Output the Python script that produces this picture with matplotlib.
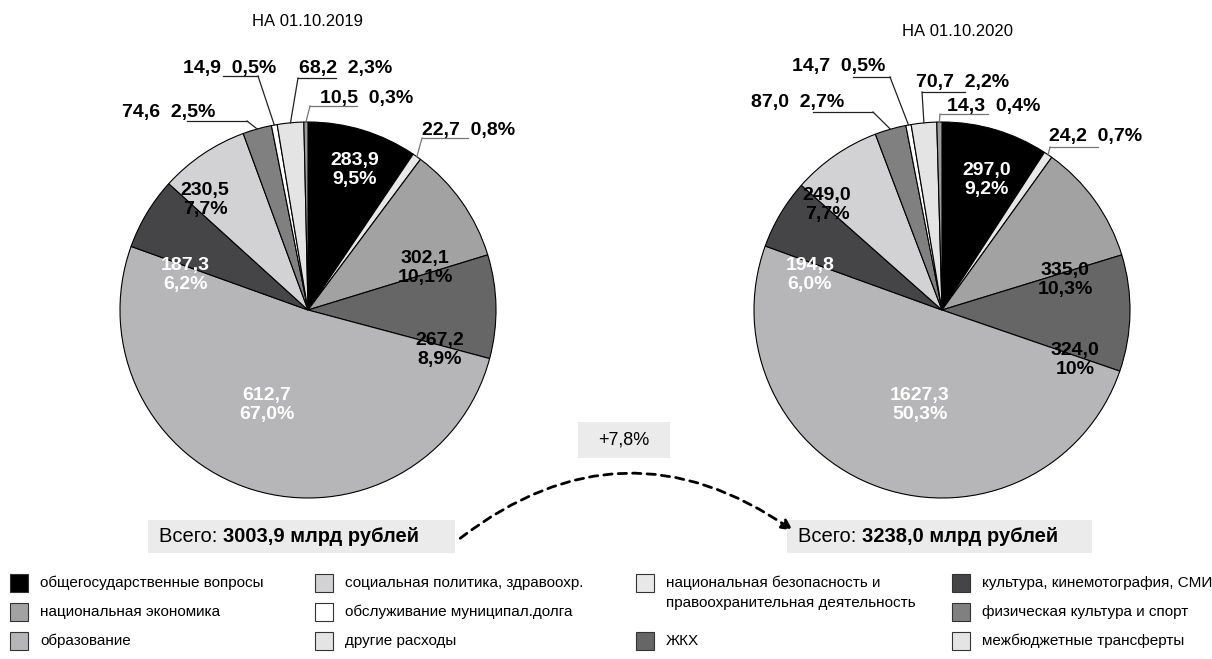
import matplotlib
matplotlib.use("Agg")
import matplotlib.pyplot as plt
import numpy as np
from matplotlib.patches import Rectangle, FancyArrowPatch

W, H = 1212, 659

# categories in the order the slices are drawn (clockwise from 12 o'clock)
categories = [
    "общегосударственные вопросы",
    "национальная безопасность и правоохранительная деятельность",
    "национальная экономика",
    "ЖКХ",
    "образование",
    "культура, кинемотография, СМИ",
    "социальная политика, здравоохр.",
    "физическая культура и спорт",
    "обслуживание муниципал.долга",
    "межбюджетные трансферты",
    "другие расходы",
]
colors = ["#000000", "#e8e8e8", "#a2a2a2", "#666666", "#b6b6b8", "#454547",
          "#d2d2d4", "#808080", "#ffffff", "#e4e4e4", "#9c9c9c"]

# slice sizes, bn rubles
sizes_2019 = [283.9, 22.7, 302.1, 267.2, 1542.0, 187.3, 230.5, 74.6, 14.9, 68.2, 10.5]
sizes_2020 = [297.0, 24.2, 335.0, 324.0, 1627.3, 194.8, 249.0, 87.0, 14.7, 70.7, 14.3]

# label texts as printed on the chart
labels_2019 = ["283,9\n9,5%", "22,7  0,8%", "302,1\n10,1%", "267,2\n8,9%", "612,7\n67,0%",
               "187,3\n6,2%", "230,5\n7,7%", "74,6  2,5%", "14,9  0,5%", "68,2  2,3%", "10,5  0,3%"]
labels_2020 = ["297,0\n9,2%", "24,2  0,7%", "335,0\n10,3%", "324,0\n10%", "1627,3\n50,3%",
               "194,8\n6,0%", "249,0\n7,7%", "87,0  2,7%", "14,7  0,5%", "70,7  2,2%", "14,3  0,4%"]
label_colors = ["white", "black", "black", "black", "white", "white", "black",
                "black", "black", "black", "black"]

totals = ["3003,9", "3238,0"]
growth = "+7,8%"
titles = ["НА 01.10.2019", "НА 01.10.2020"]

legend_cols = [
    ["общегосударственные вопросы", "национальная экономика", "образование"],
    ["социальная политика, здравоохр.", "обслуживание муниципал.долга", "другие расходы"],
    ["национальная безопасность и\nправоохранительная деятельность", None, "ЖКХ"],
    ["культура, кинемотография, СМИ", "физическая культура и спорт", "межбюджетные трансферты"],
]
legend_colors = [
    ["#000000", "#a2a2a2", "#b6b6b8"],
    ["#d2d2d4", "#ffffff", "#e4e4e4"],
    ["#e8e8e8", None, "#666666"],
    ["#454547", "#808080", "#e4e4e4"],
]

NARROW = ["Liberation Sans Narrow", "Liberation Sans", "DejaVu Sans"]
BOLD = ["Liberation Sans", "DejaVu Sans"]


def Y(y):
    return H - y


fig = plt.figure(figsize=(W / 100, H / 100), dpi=100)
ax = fig.add_axes([0, 0, 1, 1])

pies = [
    dict(center=(308, 310), sizes=sizes_2019, labels=labels_2019, title=titles[0], title_xy=(308, 22),
         inner={0: (355, 170), 2: (425, 268), 3: (440, 350), 4: (267, 405), 5: (185, 275), 6: (205, 200)},
         # outer label: text left x, text y, underline x0, x1, y, attach end
         outer={8: (183, 68, 223, 258, 76, 1), 9: (299, 68, 298, 336, 78, 0),
                10: (320, 98, 310, 357, 106, 0), 7: (122, 113, 187, 247, 121, 1),
                1: (422, 130, 422, 468, 138, 0)}),
    dict(center=(942, 310), sizes=sizes_2020, labels=labels_2020, title=titles[1], title_xy=(958, 32),
         inner={0: (987, 180), 2: (1065, 280), 3: (1075, 360), 4: (920, 405), 5: (810, 275), 6: (827, 205)},
         outer={8: (792, 66, 853, 890, 77, 1), 9: (916, 83, 922, 965, 92, 0),
                10: (947, 106, 940, 988, 114, 0), 7: (751, 103, 813, 873, 112, 1),
                1: (1049, 137, 1050, 1098, 147, 0)}),
]

R = 188
for p in pies:
    cx, cy = p["center"]
    wedges, _ = ax.pie(p["sizes"], colors=colors, startangle=90, counterclock=False,
                       center=(cx, Y(cy)), radius=R,
                       wedgeprops=dict(edgecolor="black", linewidth=0.8))
    ax.text(p["title_xy"][0], Y(p["title_xy"][1]), p["title"], ha="center", va="center",
            fontsize=12, family=NARROW)
    for i, (tx, ty) in p["inner"].items():
        ax.text(tx, Y(ty), p["labels"][i], ha="center", va="center", fontsize=14,
                fontweight="bold", color=label_colors[i], family=BOLD, linespacing=1.15)
    for i, (tx, ty, ux0, ux1, uy, end) in p["outer"].items():
        w = wedges[i]
        mid = np.deg2rad((w.theta1 + w.theta2) / 2)
        ex, ey = cx + R * np.cos(mid), Y(cy) + R * np.sin(mid)
        ax.text(tx, Y(ty), p["labels"][i], ha="left", va="center", fontsize=14,
                fontweight="bold", family=BOLD)
        lc = "#777777" if i in (1, 10) else "#222222"
        ax.plot([ux0, ux1], [Y(uy), Y(uy)], color=lc, lw=0.9)
        sx = ux1 if end else ux0
        ax.plot([sx, ex], [Y(uy), ey], color=lc, lw=0.9)

ax.set_xlim(0, W)
ax.set_ylim(0, H)
ax.set_aspect("auto")
ax.axis("off")

# totals boxes
box_spec = [(148, 455, totals[0]), (787, 1092, totals[1])]
fig.canvas.draw()
r = fig.canvas.get_renderer()
inv = ax.transData.inverted()
for x0, x1, tot in box_spec:
    ax.add_patch(Rectangle((x0, Y(553)), x1 - x0, 33, facecolor="#ebebeb", edgecolor="none"))
    t1 = ax.text(x0 + 11, Y(537), "Всего: ", ha="left", va="center", fontsize=14.5, family=NARROW)
    bb = t1.get_window_extent(renderer=r)
    xd = inv.transform((bb.x1, bb.y0))[0]
    ax.text(xd, Y(537), tot + " млрд рублей", ha="left", va="center", fontsize=14.5,
            fontweight="bold", family=NARROW)

ax.add_patch(Rectangle((578, Y(458)), 92, 36, facecolor="#ebebeb", edgecolor="none"))
ax.text(624, Y(440), growth, ha="center", va="center", fontsize=13, family=NARROW)

arrow = FancyArrowPatch((458, Y(540)), (795, Y(532)), connectionstyle="arc3,rad=-0.37",
                        arrowstyle="-|>", mutation_scale=16, color="black", lw=2,
                        linestyle=(0, (3, 2.2)))
ax.add_patch(arrow)

# legend
col_x = [10, 315, 636, 952]
row_y = [583, 612, 641]
for cx_, labels, cols in zip(col_x, legend_cols, legend_colors):
    for ry, lab, col in zip(row_y, labels, cols):
        if lab is None:
            continue
        ax.add_patch(Rectangle((cx_, Y(ry + 9)), 18, 18, facecolor=col, edgecolor="#333333", lw=0.8))
        ty = ry + 10 if "\n" in lab else ry
        ax.text(cx_ + 30, Y(ty), lab, ha="left", va="center", fontsize=11, family=NARROW,
                linespacing=1.5)

fig.savefig("out.png", dpi=100)
